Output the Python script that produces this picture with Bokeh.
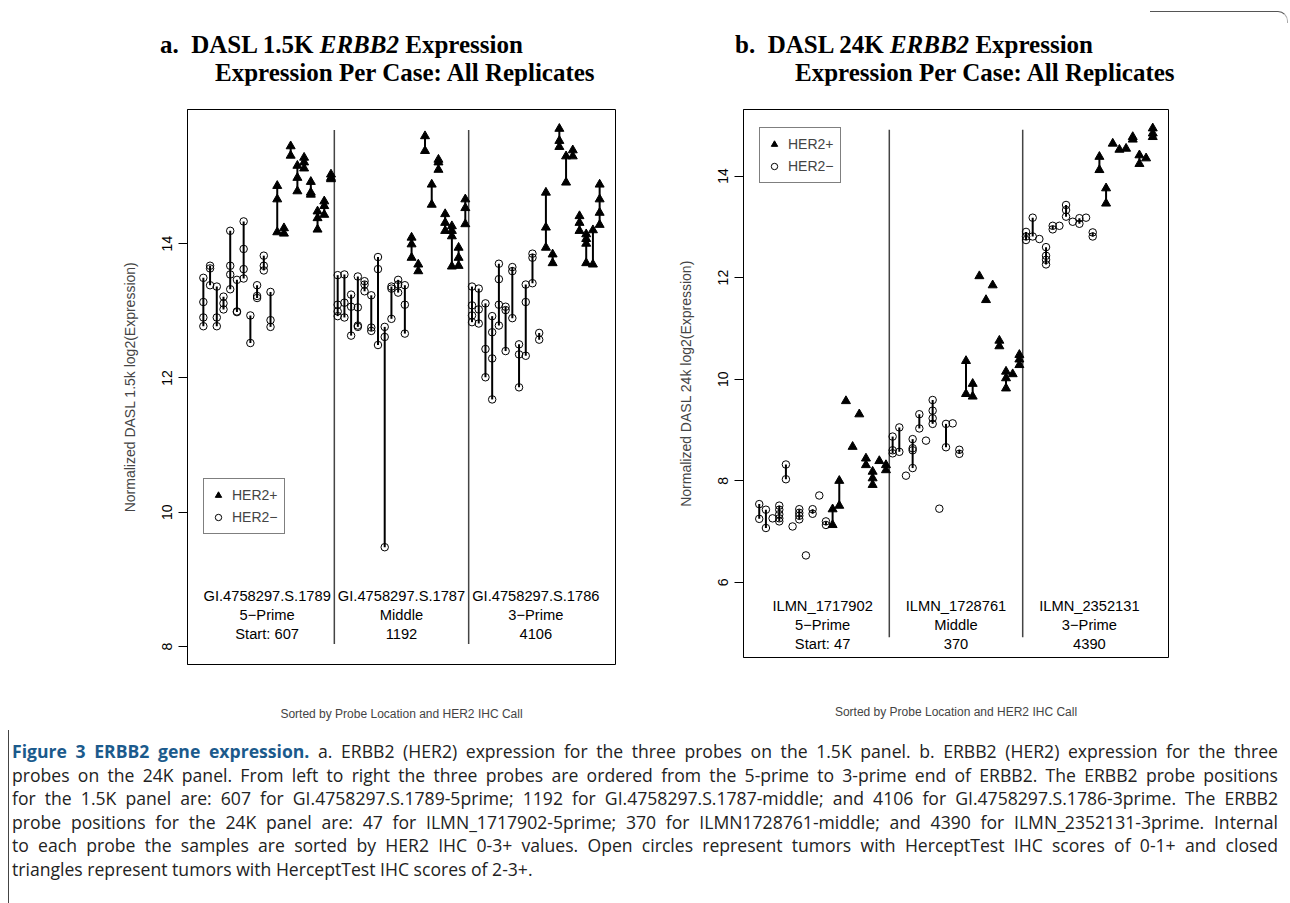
from bokeh.plotting import figure
from bokeh.models import Range1d, FixedTicker, Legend, LegendItem, Div, ColumnDataSource
from bokeh.layouts import column, row
from bokeh.embed import file_html
from bokeh.resources import INLINE
from bokeh.core.properties import value

# ---------------- data ----------------
# HER2 IHC call of the 20 cases inside each probe block (sorted by IHC)
her2_calls = ["-", "-", "-", "-", "-", "-", "-", "-", "-", "-", "-",
              "+", "+", "+", "+", "+", "+", "+", "+", "+"]

# DASL 1.5K panel: replicates per case, probes 5', middle, 3'
a_values = [
    [13.49, 13.13, 12.90, 12.77], [13.67, 13.63, 13.38], [13.36, 12.90, 12.77],
    [13.21, 13.11, 13.02], [14.19, 13.67, 13.54, 13.32], [13.46, 12.99, 12.98],
    [14.33, 13.92, 13.62, 13.48], [12.93, 12.52], [13.38, 13.22, 13.19],
    [13.82, 13.67, 13.60], [13.28, 12.86, 12.76],
    [14.86, 14.66, 14.17], [14.23, 14.15], [15.45, 15.31], [15.16, 14.98, 14.78],
    [15.28, 15.21, 15.12], [14.92, 14.76, 14.73], [14.48, 14.38, 14.21],
    [14.63, 14.56, 14.43], [15.03, 14.98, 14.96],
    [13.53, 13.09, 12.99, 12.92], [13.54, 13.12, 12.90], [13.24, 13.06, 12.63],
    [13.51, 13.05, 12.78, 12.76], [13.44, 13.39, 13.29], [13.23, 12.75, 12.70],
    [13.80, 13.62, 12.49], [12.76, 12.61, 9.48], [13.36, 13.33, 12.88],
    [13.46, 13.39, 13.27], [13.38, 13.09, 12.66],
    [14.09, 13.99, 13.79], [13.69, 13.59], [15.60, 15.38], [14.88, 14.58],
    [15.25, 15.21, 15.10], [14.44, 14.31, 14.19], [14.26, 14.19, 14.11, 13.66],
    [13.94, 13.79, 13.67], [14.66, 14.53, 14.29],
    [13.36, 13.08, 12.93, 12.83], [13.33, 13.02, 12.81], [13.11, 12.43, 12.01],
    [12.92, 12.68, 12.29, 11.68], [13.70, 13.47, 13.09, 12.78], [13.06, 13.01, 12.40],
    [13.65, 13.59, 12.89], [12.50, 12.35, 11.86], [13.39, 13.13, 12.33],
    [13.85, 13.79, 13.41], [12.67, 12.57],
    [14.76, 14.24, 13.94], [13.84, 13.71], [15.71, 15.53, 15.44], [15.30, 14.91],
    [15.39, 15.30], [14.41, 14.31, 14.19], [14.14, 14.07, 14.00, 13.71],
    [14.20, 13.69], [14.88, 14.66, 14.46, 14.28],
]

# DASL 24K panel
b_values = [
    [7.54, 7.25], [7.43, 7.07], [7.26], [7.51, 7.43, 7.34, 7.26, 7.20], [8.32, 8.03],
    [7.10], [7.44, 7.37, 7.31, 7.24], [6.53], [7.44, 7.35], [7.71], [7.20, 7.13],
    [7.44, 7.13], [8.00, 7.51], [9.57], [8.67], [9.31], [8.44, 8.31],
    [8.18, 8.05, 7.92], [8.39], [8.31, 8.21],
    [8.87, 8.60, 8.54], [9.05, 8.57], [8.10], [8.82, 8.64, 8.60, 8.25], [9.31, 9.03],
    [8.79], [9.59, 9.38, 9.23, 9.12], [7.45], [9.12, 8.66], [9.13], [8.61, 8.53],
    [10.36, 9.71], [9.91, 9.66], [12.03], [11.56], [11.85], [10.76, 10.65],
    [10.15, 10.02, 9.82], [10.10], [10.48, 10.39, 10.28],
    [12.90, 12.81, 12.74], [13.18, 12.81], [12.76], [12.60, 12.43, 12.35, 12.26],
    [13.02, 12.95], [13.02], [13.43, 13.33, 13.20], [13.10], [13.17, 13.06], [13.18],
    [12.89, 12.81],
    [14.38, 14.12], [13.76, 13.46], [14.64], [14.52], [14.54], [14.77, 14.72],
    [14.41, 14.24], [14.35], [14.94, 14.84, 14.77],
]

a_probe_ids = ["GI.4758297.S.1789", "GI.4758297.S.1787", "GI.4758297.S.1786"]
b_probe_ids = ["ILMN_1717902", "ILMN_1728761", "ILMN_2352131"]
probe_locs = ["5\u2212Prime", "Middle", "3\u2212Prime"]
a_probe_starts = ["Start: 607", "1192", "4106"]
b_probe_starts = ["Start: 47", "370", "4390"]

a_yticks = [8, 10, 12, 14, 16]
b_yticks = [6, 8, 10, 12, 14]

a_ylabel = "Normalized DASL 1.5k log2(Expression)"
b_ylabel = "Normalized DASL 24k log2(Expression)"
xlabel = "Sorted by Probe Location and HER2 IHC Call"
legend_labels = ["HER2+", "HER2\u2212"]

FONT = "Liberation Sans"


def build_panel(values, probe_ids, probe_starts, yticks, ylabel, y_lo, y_hi,
                div_lo, div_hi, label_y, frame_w, frame_h, borders, legend_loc, xl_standoff):
    calls = her2_calls * len(probe_ids)
    n = len(values)
    group = len(her2_calls)
    neg = dict(x=[], y=[])
    pos = dict(x=[], y=[])
    seg = dict(x=[], lo=[], hi=[])
    for i, (reps, call) in enumerate(zip(values, calls)):
        x = i + 1
        if len(reps) > 1:
            seg["x"].append(x)
            seg["lo"].append(min(reps))
            seg["hi"].append(max(reps))
        tgt = pos if call == "+" else neg
        for v in reps:
            tgt["x"].append(x)
            tgt["y"].append(v)
    pad = 0.04 * (n - 1)
    bl, br, bt, bb = borders
    p = figure(frame_width=frame_w, frame_height=frame_h,
               x_range=Range1d(1 - pad, n + pad), y_range=Range1d(y_lo, y_hi),
               output_backend="svg", toolbar_location=None, tools="",
               min_border_left=bl, min_border_right=br,
               min_border_top=bt, min_border_bottom=bb)
    p.grid.visible = False
    p.outline_line_color = "black"
    p.outline_line_width = 1
    p.background_fill_color = "white"
    p.border_fill_color = "white"

    # x axis: label only
    p.xaxis.ticker = FixedTicker(ticks=[])
    p.xaxis.axis_line_color = None
    p.xaxis.major_tick_line_color = None
    p.xaxis.minor_tick_line_color = None
    p.xaxis.major_tick_out = 0
    p.xaxis.axis_label = xlabel
    p.xaxis.axis_label_text_font = FONT
    p.xaxis.axis_label_text_font_style = "normal"
    p.xaxis.axis_label_text_font_size = "12px"
    p.xaxis.axis_label_standoff = xl_standoff

    # y axis
    p.yaxis.ticker = FixedTicker(ticks=yticks)
    p.yaxis.major_tick_out = 9
    p.yaxis.major_tick_in = 0
    p.yaxis.minor_tick_line_color = None
    p.yaxis.axis_line_color = "black"
    p.yaxis.major_label_orientation = "vertical"
    p.yaxis.major_label_standoff = 6
    p.yaxis.major_label_text_font = FONT
    p.yaxis.major_label_text_font_size = "14px"
    p.yaxis.major_label_text_color = "black"
    p.yaxis.axis_label = ylabel
    p.yaxis.axis_label_text_font = FONT
    p.yaxis.axis_label_text_font_style = "normal"
    p.yaxis.axis_label_text_font_size = "14px"
    p.yaxis.axis_label_standoff = 22

    # probe block dividers
    dx = [group * k + 0.5 for k in range(1, len(probe_ids))]
    p.segment(x0=dx, y0=[div_lo] * len(dx), x1=dx, y1=[div_hi] * len(dx),
              line_color="#444444", line_width=1.5)

    # replicate ranges and points
    p.segment(x0="x", y0="lo", x1="x", y1="hi", source=ColumnDataSource(seg),
              line_color="black", line_width=2)
    circ = p.scatter("x", "y", source=ColumnDataSource(neg), marker="circle", size=7.5,
                     fill_color=None, line_color="black", line_width=1)
    tri = p.scatter("x", "y", source=ColumnDataSource(pos), marker="triangle", size=9,
                    fill_color="black", line_color="black", line_width=1)

    # probe labels
    centers = [group * k + (group + 1) / 2 for k in range(len(probe_ids))]
    texts = [f"{a}\n{b}\n{c}" for a, b, c in zip(probe_ids, probe_locs, probe_starts)]
    p.text(x=centers, y=[label_y] * len(centers), text=texts, text_align="center",
           text_baseline="middle", text_font=value(FONT), text_font_size="14.7px",
           text_line_height=1.2, text_color="black")

    legend = Legend(items=[LegendItem(label=legend_labels[0], renderers=[tri]),
                           LegendItem(label=legend_labels[1], renderers=[circ])],
                    location=legend_loc, border_line_color="black", border_line_width=1,
                    background_fill_color="white", background_fill_alpha=1,
                    padding=6, spacing=2, glyph_width=16, glyph_height=20,
                    label_height=20, label_standoff=6, margin=0,
                    label_text_font=FONT, label_text_font_size="14px")
    p.add_layout(legend)
    return p


fig_a = build_panel(a_values, a_probe_ids, a_probe_starts, a_yticks, a_ylabel,
                    7.734, 15.996, 8.04, 15.69, 8.47, 428, 555, (187, 30, 18, 72), (16, 130), 42)
fig_b = build_panel(b_values, b_probe_ids, b_probe_starts, b_yticks, b_ylabel,
                    4.52, 15.31, 4.92, 14.91, 5.16, 425, 548, (98, 122, 24, 73), (16, 474), 47)

title_style = ("font-family:'Liberation Serif',serif;font-weight:bold;font-size:25px;"
               "line-height:28px;white-space:nowrap;color:#000;")
title_a = Div(text=(f"<div style=\"{title_style}padding-top:31px;\">"
                    "<div style='margin-left:160px'>a.&nbsp; DASL 1.5K <i>ERBB2</i> Expression</div>"
                    "<div style='margin-left:215px'>Expression Per Case: All Replicates</div></div>"),
              width=645, height=85, margin=0)
title_b = Div(text=("<div style='margin:11px 0 0 505px;width:138px;height:12px;box-sizing:border-box;"
                    "border-top:1px solid #555;border-right:1px solid #aaa;border-top-right-radius:10px;'></div>"
                    f"<div style=\"{title_style}padding-top:8px;\">"
                    "<div style='margin-left:90px'>b.&nbsp; DASL 24K <i>ERBB2</i> Expression</div>"
                    "<div style='margin-left:150px'>Expression Per Case: All Replicates</div></div>"),
              width=645, height=85, margin=0)

cap_lines = [
    "<b style='color:#1b5a8c'>Figure 3 ERBB2 gene expression.</b> a. ERBB2 (HER2) expression for the three probes on the 1.5K panel. b. ERBB2 (HER2) expression for the three",
    "probes on the 24K panel. From left to right the three probes are ordered from the 5-prime to 3-prime end of ERBB2. The ERBB2 probe positions",
    "for the 1.5K panel are: 607 for GI.4758297.S.1789-5prime; 1192 for GI.4758297.S.1787-middle; and 4106 for GI.4758297.S.1786-3prime. The ERBB2",
    "probe positions for the 24K panel are: 47 for ILMN_1717902-5prime; 370 for ILMN1728761-middle; and 4390 for ILMN_2352131-3prime. Internal",
    "to each probe the samples are sorted by HER2 IHC 0-3+ values. Open circles represent tumors with HerceptTest IHC scores of 0-1+ and closed",
    "triangles represent tumors with HerceptTest IHC scores of 2-3+.",
]
cap_html = "".join(
    f"<div style='text-align:justify;text-align-last:{'justify' if i < len(cap_lines) - 1 else 'left'}'>{t}</div>"
    for i, t in enumerate(cap_lines))
caption = Div(text=("<div style=\"margin-left:8px;border-left:1px solid #444;padding:10px 12px 0 3px;"
                    "font-family:'Open Sans',sans-serif;font-size:17.6px;line-height:23.6px;color:#222;"
                    "height:173px;box-sizing:border-box;width:1282px;\">" + cap_html + "</div>"),
              width=1290, height=173, margin=0)

layout = column(row(title_a, title_b, spacing=0), row(fig_a, fig_b, spacing=0), caption, spacing=0)

open("out.html", "w").write(file_html(layout, INLINE))
